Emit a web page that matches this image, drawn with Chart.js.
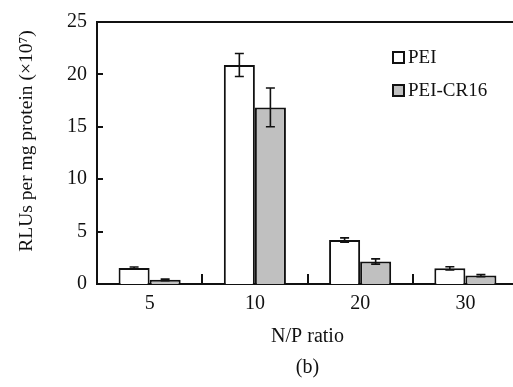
<!DOCTYPE html>
<html>
<head>
<meta charset="utf-8">
<script src="https://cdn.jsdelivr.net/npm/chart.js@4"></script>
<style>
  html, body { margin: 0; padding: 0; background: #fff; overflow: hidden; }
  canvas { display: block; }
</style>
</head>
<body>
<canvas id="chart" width="520" height="387"></canvas>
<script>
// data
const ratios = ['5', '10', '20', '30'];
const peiValues = [1.52, 20.9, 4.2, 1.5];
const peiErrors = [0.1, 1.1, 0.2, 0.15];
const cr16Values = [0.4, 16.85, 2.15, 0.8];
const cr16Errors = [0.08, 1.85, 0.25, 0.1];
const yTicks = [0, 5, 10, 15, 20, 25];
const yTitle = 'RLUs per mg protein (×10⁷)';

const serif = '"Liberation Serif", "Times New Roman", serif';
const ink = '#111';

// === Error bars ===
const errorBars = {
  id: 'errorBars',
  afterDatasetsDraw(chart) {
    const ctx = chart.ctx;
    const y = chart.scales.y;
    ctx.save();
    ctx.strokeStyle = ink;
    ctx.lineWidth = 1.6;
    chart.data.datasets.forEach((ds, di) => {
      const meta = chart.getDatasetMeta(di);
      meta.data.forEach((bar, i) => {
        const v = ds.data[i], e = ds.errors[i];
        const yTop = y.getPixelForValue(v + e);
        const yBot = y.getPixelForValue(v - e);
        ctx.beginPath();
        ctx.moveTo(bar.x, yTop); ctx.lineTo(bar.x, yBot);
        ctx.moveTo(bar.x - 4.5, yTop); ctx.lineTo(bar.x + 4.5, yTop);
        ctx.moveTo(bar.x - 4.5, yBot); ctx.lineTo(bar.x + 4.5, yBot);
        ctx.stroke();
      });
    });
    ctx.restore();
  }
};

// === Frame, inward ticks, legend, y title ===
const frame = {
  id: 'frame',
  afterDraw(chart) {
    const ctx = chart.ctx;
    const { left, right, top, bottom } = chart.chartArea;
    const x = chart.scales.x, y = chart.scales.y;
    ctx.save();
    ctx.strokeStyle = ink;
    ctx.lineWidth = 2;
    ctx.beginPath();
    ctx.moveTo(left, top); ctx.lineTo(right, top);
    // y ticks pointing inward
    yTicks.slice(1, -1).forEach(t => {
      const py = Math.round(y.getPixelForValue(t));
      ctx.moveTo(left, py); ctx.lineTo(left + 6, py);
    });
    // x ticks between categories
    for (let i = 1; i < ratios.length; i++) {
      const px = Math.round((x.getPixelForValue(i - 1) + x.getPixelForValue(i)) / 2);
      ctx.moveTo(px, bottom); ctx.lineTo(px, bottom - 10);
    }
    ctx.stroke();

    // legend
    const items = chart.data.datasets;
    ctx.font = '19px ' + serif;
    ctx.textBaseline = 'middle';
    ctx.textAlign = 'left';
    items.forEach((ds, i) => {
      const cy = 57.5 + i * 33;
      ctx.fillStyle = ds.backgroundColor;
      ctx.fillRect(393, cy - 5.5, 11, 11);
      ctx.lineWidth = 2;
      ctx.strokeRect(393, cy - 5.5, 11, 11);
      ctx.fillStyle = ink;
      ctx.fillText(ds.label, 408, cy + 1);
    });

    // y axis title
    ctx.translate(27, 141);
    ctx.rotate(-Math.PI / 2);
    ctx.textAlign = 'center';
    ctx.font = '19.5px ' + serif;
    ctx.fillText(yTitle, 0, 0);
    ctx.restore();
  }
};

new Chart(document.getElementById('chart'), {
  type: 'bar',
  data: {
    labels: ratios,
    datasets: [
      { label: 'PEI', data: peiValues, errors: peiErrors, backgroundColor: '#ffffff' },
      { label: 'PEI-CR16', data: cr16Values, errors: cr16Errors, backgroundColor: '#c0c0c0' }
    ]
  },
  options: {
    responsive: false,
    animation: false,
    devicePixelRatio: 1,
    layout: { padding: { top: 10, right: 2, left: 0, bottom: 0 } },
    datasets: {
      bar: {
        borderColor: ink,
        borderWidth: 2,
        categoryPercentage: 0.59,
        barPercentage: 1
      }
    },
    plugins: {
      legend: { display: false },
      tooltip: { enabled: false }
    },
    scales: {
      x: {
        offset: true,
        grid: { display: false, drawTicks: false },
        border: { display: true, color: ink, width: 2 },
        ticks: { color: ink, padding: 8, font: { family: serif, size: 20 } },
        title: {
          display: true,
          text: ['N/P ratio', '(b)'],
          color: ink,
          font: { family: serif, size: 20, lineHeight: 1.55 },
          padding: { top: 0, bottom: 4 }
        },
        afterFit(scale) { scale.height = 103; }
      },
      y: {
        min: 0,
        max: 25,
        afterBuildTicks(scale) { scale.ticks = yTicks.map(v => ({ value: v })); },
        grid: { display: false, drawTicks: false },
        border: { display: true, color: ink, width: 2 },
        ticks: { color: ink, padding: 10, font: { family: serif, size: 20 } },
        afterFit(scale) { scale.width = 97; }
      }
    }
  },
  plugins: [errorBars, frame]
});
</script>
</body>
</html>
